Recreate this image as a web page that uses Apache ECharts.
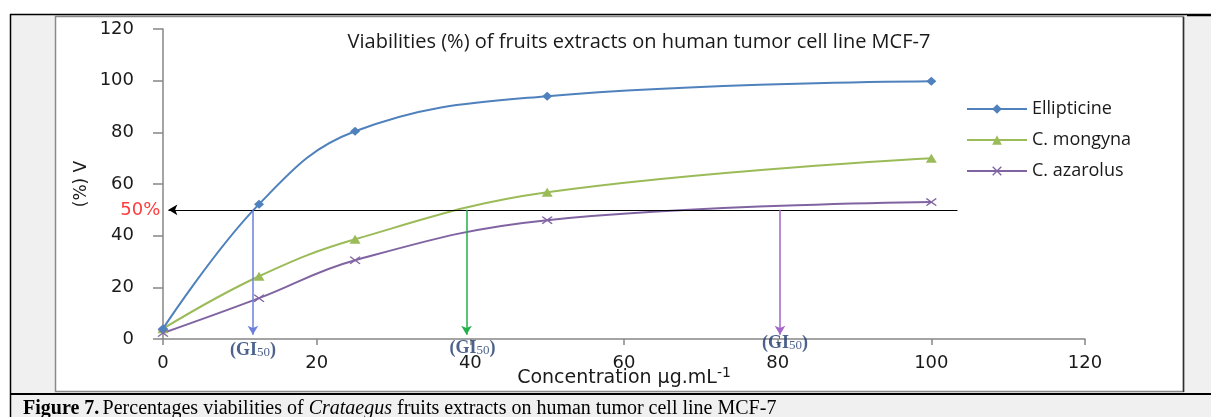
<!DOCTYPE html>
<html>
<head>
<meta charset="utf-8">
<script src="https://cdn.jsdelivr.net/npm/echarts@6/dist/echarts.min.js"></script>
<style>
html,body{margin:0;padding:0;background:#ffffff;}
#chart{width:1211px;height:417px;}
</style>
</head>
<body>
<div id="chart"></div>
<script>
// ---- data ----
const concentrations = [0, 12.5, 25, 50, 100];
const ellipticine = [4, 52.2, 80.4, 94, 99.8];
const mongyna = [4, 24.3, 38.6, 56.8, 70];
const azarolus = [2.3, 15.8, 30.5, 46, 53];
const seriesNames = ['Ellipticine', 'C. mongyna', 'C. azarolus'];
const gi50X = [11.7, 39.5, 80.3];          // GI50 concentrations read from arrows
const halfLevel = 50;                       // 50% viability level
const halfLineFromTo = [103.4, 0.7];        // extent of the 50% guide line (x values)
const xTicks = [0, 20, 40, 60, 80, 100, 120];
const yTicks = [0, 20, 40, 60, 80, 100, 120];

const colors = ['#4f81bd', '#9bbb59', '#8064a2'];
const arrowColors = ['#6d7fdc', '#22b04a', '#a366c9'];
const gi50Offsets = [[0, 11], [6, 9], [5, 4]];

function pairs(ys) { return concentrations.map((x, i) => [x, ys[i]]); }

const xMark = 'path://M0,1L1,0L5,4L9,0L10,1L6,5L10,9L9,10L5,6L1,10L0,9L4,5Z';

const chart = echarts.init(document.getElementById('chart'), null, {renderer: 'canvas'});

function arrowLine(x, color) {
  return [{coord: [x, halfLevel], symbol: 'none', lineStyle: {color: color, width: 1.5, type: 'solid'}},
          {coord: [x, 1.6], symbol: 'arrow'}];
}

const option = {
  backgroundColor: '#ffffff',
  animation: false,
  title: {
    text: 'Viabilities (%) of fruits extracts on human tumor cell line MCF-7',
    left: 639, top: 32, textAlign: 'center', padding: 0,
    textStyle: {fontFamily: 'Open Sans', fontSize: 20, fontWeight: 'normal', color: '#1a1a1a'}
  },
  legend: {
    orient: 'vertical', left: 961, top: 95,
    itemWidth: 60, itemHeight: 12, itemGap: 13,
    data: seriesNames,
    textStyle: {fontFamily: 'Open Sans', fontSize: 18, color: '#1a1a1a'}
  },
  grid: {left: 163, right: 126, top: 29, bottom: 78, containLabel: false},
  xAxis: {
    type: 'value', min: xTicks[0], max: xTicks[xTicks.length - 1], interval: 20,
    name: '{n|Concentration µg.mL}{s|-1}',
    nameLocation: 'middle', nameGap: 27, nameMoveOverlap: false,
    nameTextStyle: {
      rich: {
        n: {fontFamily: 'DejaVu Sans', fontSize: 19, color: '#1a1a1a'},
        s: {fontFamily: 'DejaVu Sans', fontSize: 14, color: '#1a1a1a', verticalAlign: 'top', padding: [0, 0, 10, 0]}
      }
    },
    axisLine: {lineStyle: {color: '#868686', width: 1.5}},
    axisTick: {length: 6, lineStyle: {color: '#868686', width: 1.5}},
    axisLabel: {fontFamily: 'DejaVu Sans', fontSize: 18, color: '#1a1a1a', margin: 15},
    splitLine: {show: false}
  },
  yAxis: {
    type: 'value', min: yTicks[0], max: yTicks[yTicks.length - 1], interval: 20,
    name: '(%) V', nameLocation: 'middle', nameGap: 73, nameRotate: 90, nameMoveOverlap: false,
    nameTextStyle: {fontFamily: 'DejaVu Sans', fontSize: 17, color: '#1a1a1a'},
    axisLine: {show: true, lineStyle: {color: '#868686', width: 1.5}},
    axisTick: {show: true, length: 10, lineStyle: {color: '#868686', width: 1.5}},
    axisLabel: {fontFamily: 'DejaVu Sans', fontSize: 18, color: '#1a1a1a', margin: 29},
    splitLine: {show: false}
  },
  graphic: [
    {type: 'rect', z: -10, shape: {x: 11, y: 15, width: 1200, height: 402}, style: {fill: '#f0f0f0'}},
    {type: 'rect', z: -9, shape: {x: 55.5, y: 16.5, width: 1128, height: 375}, style: {fill: '#ffffff', stroke: '#8a8a8a', lineWidth: 1.5}},
    {type: 'line', z: -8, shape: {x1: 1183.5, y1: 17, x2: 1183.5, y2: 392}, style: {stroke: '#303030', lineWidth: 1.5}},
    {type: 'line', z: -8, shape: {x1: 10, y1: 14.5, x2: 1211, y2: 14.5}, style: {stroke: '#000000', lineWidth: 1.5}},
    {type: 'line', z: -8, shape: {x1: 1187, y1: 15.5, x2: 1211, y2: 15.5}, style: {stroke: '#000000', lineWidth: 1.5}},
    {type: 'line', z: -8, shape: {x1: 10.5, y1: 14, x2: 10.5, y2: 417}, style: {stroke: '#000000', lineWidth: 1.5}},
    {type: 'line', z: -8, shape: {x1: 10, y1: 394, x2: 1211, y2: 394}, style: {stroke: '#000000', lineWidth: 2}},
    {type: 'text', z: -7, x: 23, y: 409,
      style: {
        text: '{b|Figure 7.} {r|Percentages viabilities of }{i|Crataegus}{r| fruits extracts on human tumor cell line MCF-7}',
        verticalAlign: 'middle',
        rich: {
          b: {fontFamily: 'Liberation Serif', fontSize: 20, fontWeight: 'bold', fill: '#000'},
          r: {fontFamily: 'Liberation Serif', fontSize: 20, fill: '#000'},
          i: {fontFamily: 'Liberation Serif', fontSize: 20, fontStyle: 'italic', fill: '#000'}
        }
      }
    }
  ],
  series: [
    {
      name: seriesNames[0], type: 'line', data: pairs(ellipticine),
      smooth: 0.4,
      symbol: 'diamond', symbolSize: [10, 9],
      itemStyle: {color: colors[0]}, lineStyle: {color: colors[0], width: 2}, z: 4,
      markLine: {
        silent: true, animation: false, symbolSize: [8, 9],
        label: {show: false},
        data: [
          [
            {coord: [halfLineFromTo[0], halfLevel], symbol: 'none',
              lineStyle: {color: '#000000', width: 1, type: 'solid'},
              label: {show: true, position: 'end', distance: 8, formatter: '50%',
                fontFamily: 'DejaVu Sans', fontSize: 18, color: '#ff3b3b'}},
            {coord: [halfLineFromTo[1], halfLevel], symbol: 'arrow'}
          ],
          arrowLine(gi50X[0], arrowColors[0])
        ]
      }
    },
    {
      name: seriesNames[1], type: 'line', data: pairs(mongyna),
      smooth: 0.4,
      symbol: 'triangle', symbolSize: [11, 9],
      itemStyle: {color: colors[1]}, lineStyle: {color: colors[1], width: 2}, z: 3,
      markLine: {
        silent: true, animation: false, symbolSize: [8, 9], label: {show: false},
        data: [arrowLine(gi50X[1], arrowColors[1])]
      }
    },
    {
      name: seriesNames[2], type: 'line', data: pairs(azarolus),
      smooth: 0.4,
      symbol: xMark, symbolSize: [11, 8],
      itemStyle: {color: colors[2]}, lineStyle: {color: colors[2], width: 2}, z: 3,
      markLine: {
        silent: true, animation: false, symbolSize: [8, 9], label: {show: false},
        data: [arrowLine(gi50X[2], arrowColors[2])]
      }
    },
    {
      name: 'GI50 labels', type: 'scatter', silent: true, clip: false,
      symbolSize: 0, z: 5,
      data: gi50X.map((x, i) => ({
        value: [x, 0],
        label: {show: true, position: 'inside', offset: gi50Offsets[i],
          formatter: '{a|(GI}{s|50}{a|)}',
          rich: {
            a: {fontFamily: 'Liberation Serif', fontSize: 18, color: '#1f3a6e', fontWeight: 'bold'},
            s: {fontFamily: 'Liberation Serif', fontSize: 13, color: '#1f3a6e', padding: [5, 0, 0, 0]}
          }
        }
      }))
    }
  ]
};

chart.setOption(option);
</script>
</body>
</html>
